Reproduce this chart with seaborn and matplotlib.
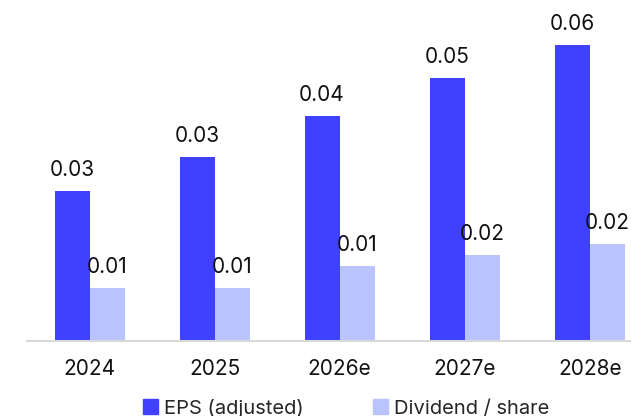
import pandas as pd
import seaborn as sns
import matplotlib.pyplot as plt

# values (labels shown rounded to 2 decimals)
years = ['2024', '2025', '2026e', '2027e', '2028e']
eps = [0.028, 0.0343, 0.042, 0.049, 0.0552]
dividend = [0.0099, 0.0099, 0.014, 0.016, 0.018]
series = ['EPS (adjusted)', 'Dividend / share']
colors = ['#4040FF', '#B9C4FF']

df = pd.DataFrame({
    'year': years * 2,
    'value': eps + dividend,
    'series': [series[0]] * 5 + [series[1]] * 5,
})

sns.set_style('white')
plt.rcParams['font.family'] = ['Inter', 'DejaVu Sans']

fig = plt.figure(figsize=(6.31, 4.16), dpi=100)
ax = fig.add_axes([27 / 631, 75 / 416, 604 / 631, 341 / 416])

sns.barplot(data=df, x='year', y='value', hue='series', palette=colors,
            width=0.56, saturation=1, linewidth=0, ax=ax, legend=False)

for cont in ax.containers:
    ax.bar_label(cont, fmt='%.2f', padding=8, fontsize=15, color='#111111')

ax.set_xlim(-0.5, 4.33)
ax.set_ylim(0, 0.0636)
ax.set_xlabel('')
ax.set_ylabel('')
ax.set_yticks([])
for s in ['top', 'right', 'left']:
    ax.spines[s].set_visible(False)
ax.spines['bottom'].set_color('#d9d9d9')
ax.spines['bottom'].set_linewidth(1.5)
ax.tick_params(axis='x', length=0, pad=13, labelsize=15, colors='#111111')

handles = [plt.Rectangle((0, 0), 1, 1, color=c) for c in colors]
fig.legend(handles, series, loc='center', bbox_to_anchor=(0.549, 8 / 416),
           ncol=2, frameon=False, fontsize=14.5, handlelength=0.75,
           handleheight=0.75, handletextpad=0.3, columnspacing=3.45)

fig.savefig('out.png', dpi=100)
